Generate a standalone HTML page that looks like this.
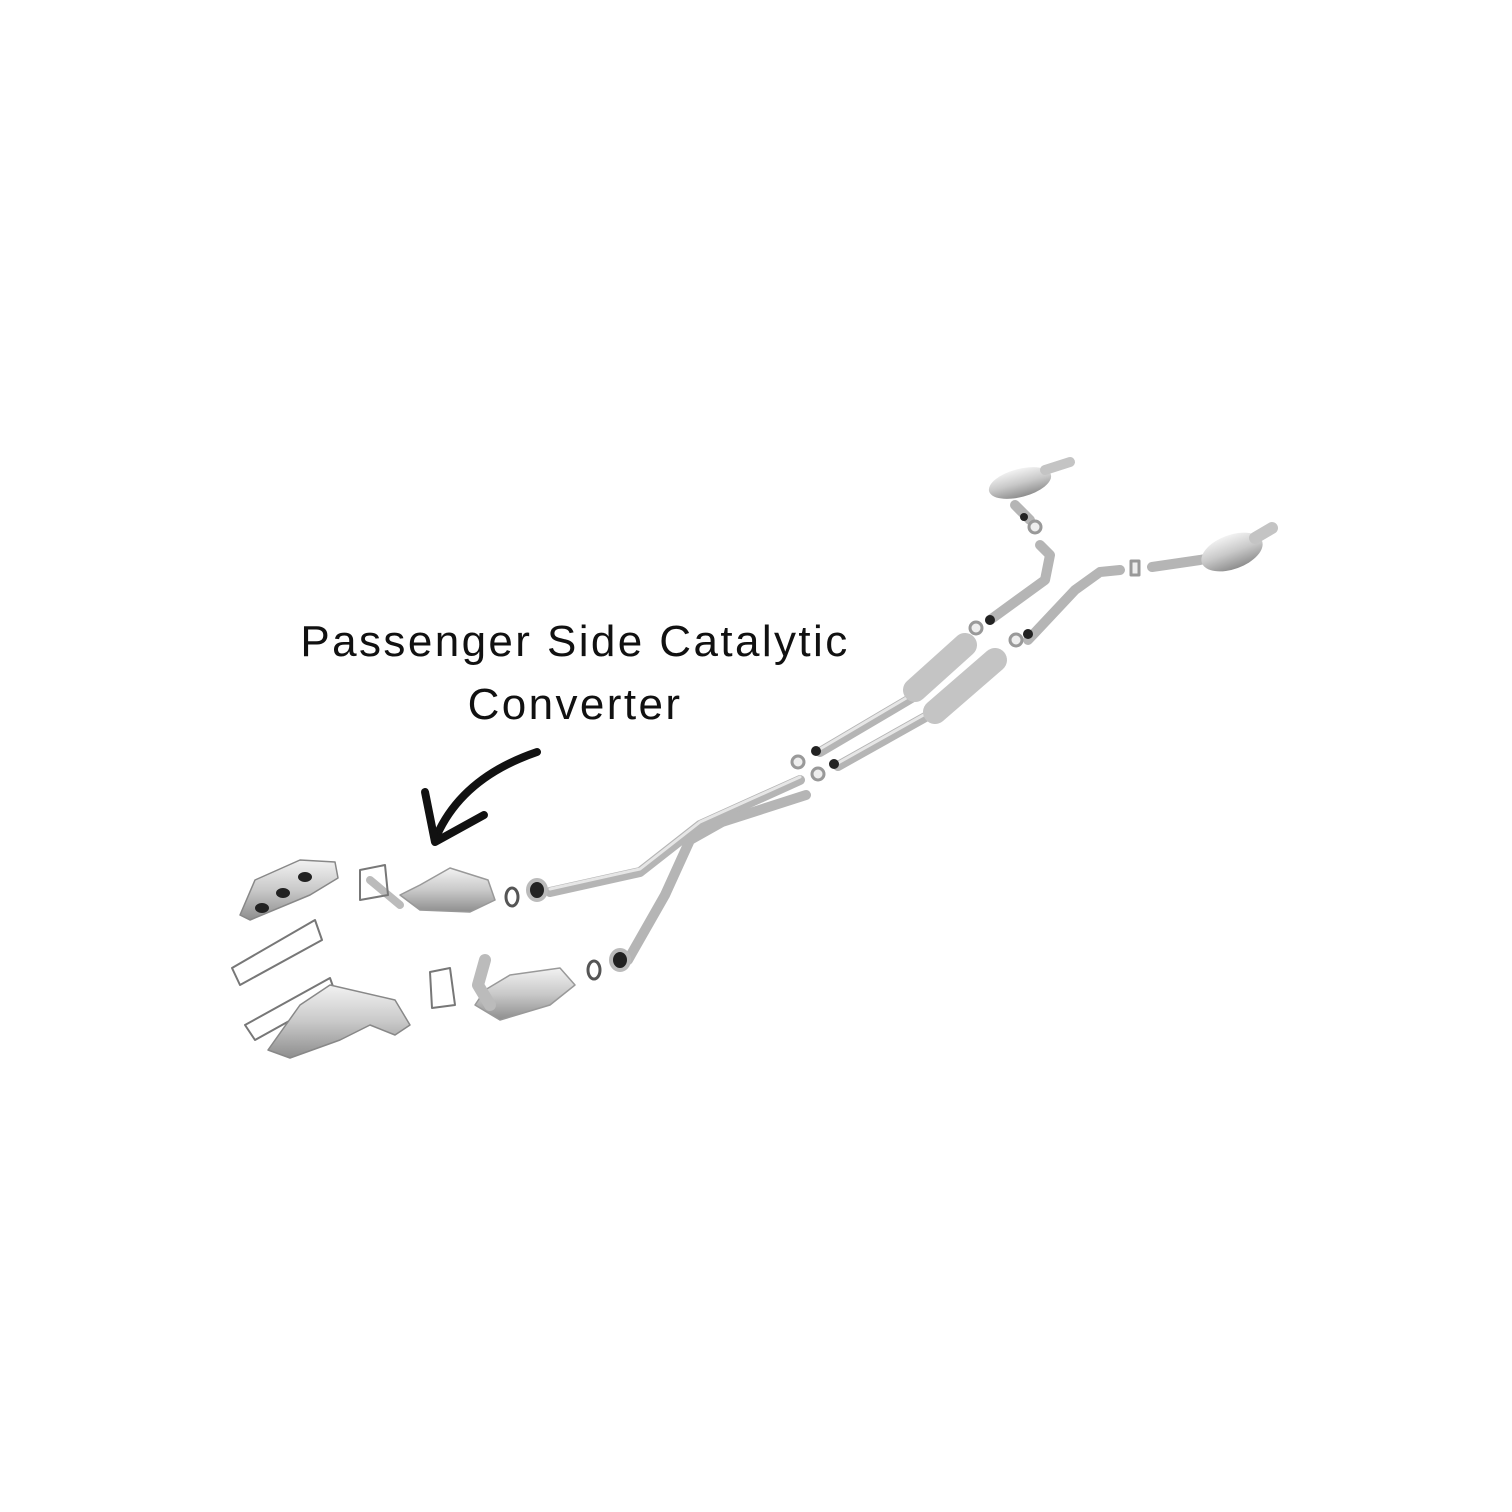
<!DOCTYPE html>
<html><head><style>
html,body{margin:0;padding:0;background:#fff;width:1512px;height:1512px;overflow:hidden}
.t{position:absolute;left:0;width:1150px;text-align:center;font-family:"Liberation Sans",sans-serif;font-size:44px;color:#111;letter-spacing:2.4px}
</style></head><body>
<div class="t" style="top:617px">Passenger Side Catalytic</div>
<div class="t" style="top:680px">Converter</div>
<svg width="1512" height="1512" style="position:absolute;left:0;top:0">
<defs>
<linearGradient id="m" x1="0" y1="0" x2="0" y2="1"><stop offset="0" stop-color="#f2f2f2"/><stop offset="0.5" stop-color="#c9c9c9"/><stop offset="1" stop-color="#8e8e8e"/></linearGradient>
</defs>
<g fill="none" stroke-linecap="round" stroke-linejoin="round">
<path d="M537,752 C490,768 455,795 437,835" stroke="#111" stroke-width="8"/>
<path d="M425,792 L435,842 L484,815" stroke="#111" stroke-width="8"/>
<g stroke="#b5b5b5" stroke-width="10">
<path d="M550,892 L640,872 L700,825 L800,780"/>
<path d="M628,960 L665,895 L690,840 L722,822 L806,795"/>
<path d="M820,752 L925,690"/>
<path d="M838,766 L945,706"/>
<path d="M990,620 L1045,580 L1050,555 L1040,545"/>
<path d="M1030,520 L1015,505"/>
<path d="M1028,640 L1075,590 L1100,572 L1120,570"/>
<path d="M1152,567 L1200,560 L1225,555"/>
</g>
<g stroke="#e6e6e6" stroke-width="3">
<path d="M550,889 L640,869 L700,822 L800,777"/>
<path d="M820,749 L925,687"/><path d="M838,763 L945,703"/>
</g>
<path d="M915,690 L965,645" stroke="#c4c4c4" stroke-width="24"/>
<path d="M935,712 L995,660" stroke="#c4c4c4" stroke-width="24"/>
<ellipse cx="1020" cy="483" rx="32" ry="14" fill="url(#m)" transform="rotate(-15 1020 483)"/>
<path d="M1045,470 L1070,462" stroke="#c4c4c4" stroke-width="10"/>
<ellipse cx="1232" cy="552" rx="32" ry="17" fill="url(#m)" transform="rotate(-20 1232 552)"/>
<path d="M1255,538 L1272,528" stroke="#c4c4c4" stroke-width="12"/>
<path d="M400,895 L420,910 L470,912 L495,900 L488,880 L450,868 L420,885 Z" fill="url(#m)" stroke="#999" stroke-width="1.5"/>
<path d="M370,880 L400,905" stroke="#bbb" stroke-width="8"/>
<path d="M475,1005 L500,1020 L550,1005 L575,985 L560,968 L510,975 L485,990 Z" fill="url(#m)" stroke="#999" stroke-width="1.5"/>
<path d="M485,960 L478,985 L490,1005" stroke="#bbb" stroke-width="12"/>
<ellipse cx="512" cy="897" rx="6" ry="9" stroke="#555" stroke-width="3"/>
<ellipse cx="537" cy="890" rx="9" ry="10" fill="#222" stroke="#bbb" stroke-width="4"/>
<ellipse cx="594" cy="970" rx="6" ry="9" stroke="#555" stroke-width="3"/>
<ellipse cx="620" cy="960" rx="9" ry="10" fill="#222" stroke="#bbb" stroke-width="4"/>
<path d="M360,870 L385,865 L388,895 L360,900 Z" stroke="#777" stroke-width="2"/>
<path d="M430,972 L450,968 L455,1005 L432,1008 Z" stroke="#777" stroke-width="2"/>
<path d="M232,968 L315,920 L322,940 L240,985 Z" stroke="#777" stroke-width="2"/>
<path d="M245,1025 L330,978 L336,995 L255,1040 Z" stroke="#777" stroke-width="2"/>
<path d="M240,915 L255,880 L300,860 L335,862 L338,878 L310,895 L250,920 Z" fill="url(#m)" stroke="#888" stroke-width="1.5"/>
<ellipse cx="262" cy="908" rx="7" ry="5" fill="#222"/><ellipse cx="283" cy="893" rx="7" ry="5" fill="#222"/><ellipse cx="305" cy="877" rx="7" ry="5" fill="#222"/>
<path d="M268,1050 L300,1005 L330,985 L395,1000 L410,1025 L395,1035 L370,1025 L340,1040 L290,1058 Z" fill="url(#m)" stroke="#888" stroke-width="1.5"/>
<g stroke="#999" stroke-width="3" fill="#eee">
<circle cx="798" cy="762" r="6"/><circle cx="818" cy="774" r="6"/>
<circle cx="976" cy="628" r="6"/><circle cx="1016" cy="640" r="6"/>
<circle cx="1035" cy="527" r="6"/><rect x="1131" y="561" width="8" height="14"/>
</g>
<g fill="#222"><circle cx="816" cy="751" r="5"/><circle cx="834" cy="764" r="5"/><circle cx="990" cy="620" r="5"/><circle cx="1028" cy="634" r="5"/><circle cx="1024" cy="517" r="4"/></g>
</g>
</svg>
</body></html>
